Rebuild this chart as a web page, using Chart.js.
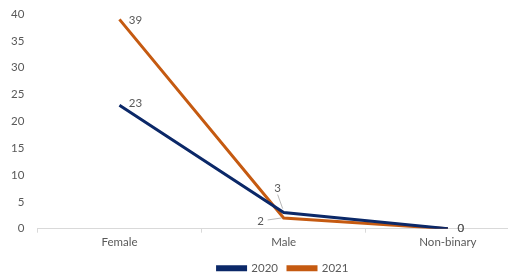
<!DOCTYPE html>
<html>
<head>
<meta charset="utf-8">
<script src="https://cdn.jsdelivr.net/npm/chart.js@4"></script>
<style>
  html, body { margin: 0; padding: 0; background: #fff; overflow: hidden; }
  #wrap { width: 530px; height: 277px; }
</style>
</head>
<body>
<div id="wrap"><canvas id="genderChart"></canvas></div>
<script>
// Datos
const categorias = ['Female', 'Male', 'Non-binary'];
const valores2020 = [23, 3, 0];
const valores2021 = [39, 2, 0];
const ticksY = [0, 5, 10, 15, 20, 25, 30, 35, 40];

const fuente = "Lato, 'Open Sans', sans-serif";
const gris = '#595959';

// Etiquetas de datos (posición relativa al punto y línea guía opcional)
const etiquetasPlugin = {
    id: 'etiquetas',
    afterLayout(chart) {
        // leyenda algo desplazada a la derecha, como en el original
        chart.legend.left += 15;
        chart.legend.right += 15;
    },
    afterDatasetsDraw(chart, args, opts) {
        const ctx = chart.ctx;
        ctx.save();
        ctx.font = '11.5px ' + fuente;
        ctx.fillStyle = gris;
        ctx.textBaseline = 'middle';
        ctx.textAlign = 'center';
        chart.data.datasets.forEach((ds, di) => {
            const meta = chart.getDatasetMeta(di);
            meta.data.forEach((pt, i) => {
                const o = opts.offsets[di][i];
                const tx = pt.x + o.dx, ty = pt.y + o.dy;
                if (o.leader) {
                    ctx.strokeStyle = '#a6a6a6';
                    ctx.lineWidth = 0.8;
                    ctx.beginPath();
                    ctx.moveTo(tx + o.leader[0], ty + o.leader[1]);
                    ctx.lineTo(pt.x + o.leader[2], pt.y + o.leader[3]);
                    ctx.stroke();
                }
                ctx.fillText(ds.data[i], tx, ty);
            });
        });
        ctx.restore();
    }
};

new Chart(document.getElementById('genderChart'), {
    type: 'line',
    data: {
        labels: categorias,
        datasets: [
            {
                label: '2020',
                data: valores2020,
                borderColor: '#0b2868',
                backgroundColor: '#0b2868',
                borderWidth: 3,
                pointRadius: 0,
                tension: 0
            },
            {
                label: '2021',
                data: valores2021,
                borderColor: '#c55a11',
                backgroundColor: '#c55a11',
                borderWidth: 3,
                pointRadius: 0,
                tension: 0
            }
        ]
    },
    options: {
        responsive: true,
        maintainAspectRatio: false,
        animation: false,
        layout: { padding: { top: 14, left: 6, right: 0, bottom: -7 } },
        plugins: {
            legend: {
                position: 'bottom',
                labels: {
                    boxWidth: 28,
                    boxHeight: 3,
                    padding: 10,
                    color: gris,
                    font: { size: 11.5, family: fuente }
                }
            },
            tooltip: { enabled: false },
            etiquetas: {
                offsets: [
                    [{ dx: 16, dy: -2 }, { dx: -6, dy: -24, leader: [0, 6, -1, -4] }, { dx: 13, dy: 0 }],
                    [{ dx: 16, dy: 1 }, { dx: -23, dy: 3, leader: [7, -1, -2, 0] }, { dx: 13, dy: 0 }]
                ]
            }
        },
        scales: {
            y: {
                min: 0,
                max: 40,
                afterBuildTicks: (axis) => { axis.ticks = ticksY.map(v => ({ value: v })); },
                grid: { display: false },
                border: { display: false },
                ticks: { color: gris, padding: 5, font: { size: 11.5, family: fuente } }
            },
            x: {
                offset: true,
                grid: { offset: true, drawOnChartArea: false, tickLength: 4, color: '#d9d9d9' },
                border: { color: '#d9d9d9' },
                ticks: { color: gris, padding: 3, font: { size: 11.5, family: fuente } }
            }
        }
    },
    plugins: [etiquetasPlugin]
});
</script>
</body>
</html>
